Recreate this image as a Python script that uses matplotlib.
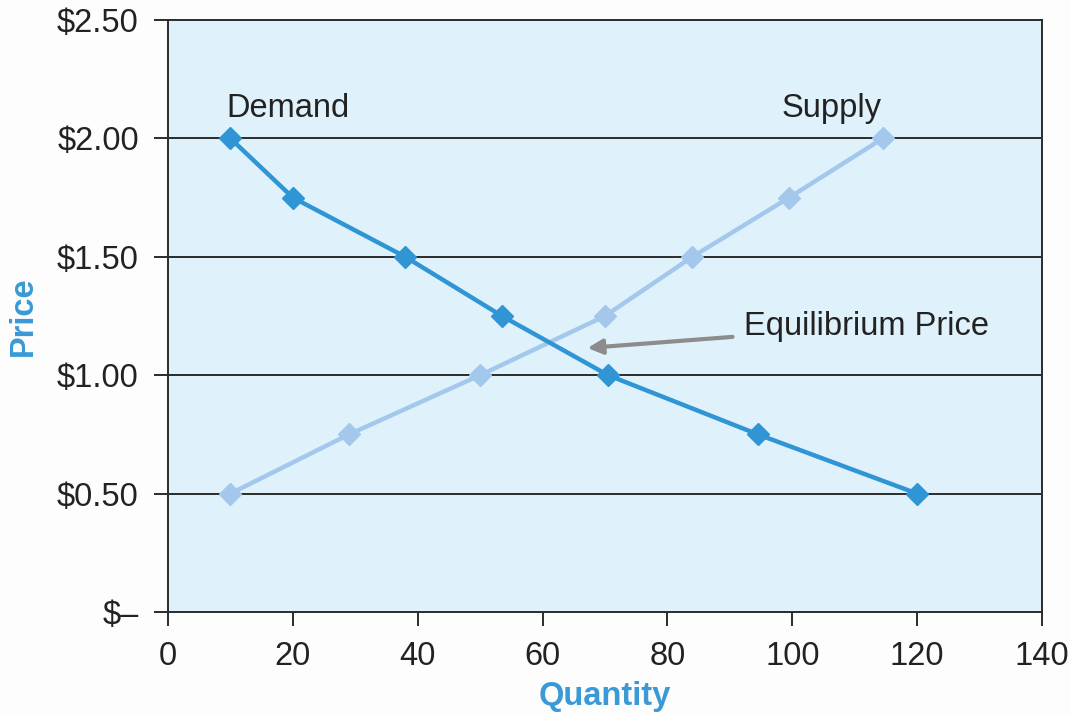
import matplotlib
matplotlib.use("Agg")
import matplotlib.pyplot as plt

# Data
demand_q = [10, 20, 38, 53.5, 70.5, 94.5, 120]
demand_p = [2.00, 1.75, 1.50, 1.25, 1.00, 0.75, 0.50]
supply_q = [10, 29, 50, 70, 84, 99.5, 114.5]
supply_p = [0.50, 0.75, 1.00, 1.25, 1.50, 1.75, 2.00]
x_ticks = [0, 20, 40, 60, 80, 100, 120, 140]
y_ticks = [0.0, 0.5, 1.0, 1.5, 2.0, 2.5]
y_tick_labels = ["$\u2013", "$0.50", "$1.00", "$1.50", "$2.00", "$2.50"]

plt.rcParams['font.family'] = ['Liberation Sans', 'DejaVu Sans']

fig = plt.figure(figsize=(10.7, 7.14), dpi=100)
fig.patch.set_facecolor('#fdfdfd')
ax = fig.add_axes([168/1070, 1-612/714, (1042-168)/1070, (612-20)/714])
ax.set_facecolor('#dff2fc')

ax.set_xlim(0, 140)
ax.set_ylim(0, 2.5)

for y in y_ticks[1:-1]:
    ax.axhline(y, color='#2b2b2b', lw=1.4, zorder=1)

blue = '#2f95d4'
light = '#a3c8ec'
ax.plot(supply_q, supply_p, color=light, lw=3.2, marker='D', ms=11, zorder=3)
ax.plot(demand_q, demand_p, color=blue, lw=3.2, marker='D', ms=11, zorder=4)

ax.text(9.3, 2.125, "Demand", fontsize=23.5, color='#222222', va='center', ha='left')
ax.text(98.2, 2.125, "Supply", fontsize=23.5, color='#222222', va='center', ha='left')
ax.annotate("Equilibrium Price", xy=(67.2, 1.115), xytext=(92.2, 1.205),
            fontsize=23.5, color='#222222', va='center', ha='left',
            arrowprops=dict(arrowstyle='-|>', color='#8c8c8c', lw=3,
                            mutation_scale=22, shrinkA=6, shrinkB=0))

ax.set_xticks(x_ticks)
ax.set_yticks(y_ticks)
ax.set_yticklabels(y_tick_labels)
ax.tick_params(axis='both', direction='out', length=10, width=1.4,
               color='#2b2b2b', labelsize=23.5, labelcolor='#222222')
ax.tick_params(axis='y', pad=11)
ax.tick_params(axis='x', pad=11)

for s in ax.spines.values():
    s.set_color('#2b2b2b')
    s.set_linewidth(1.4)

ax.set_xlabel("Quantity", fontsize=23.5, fontweight='bold', color='#3a9ad6', labelpad=6)
ax.set_ylabel("Price", fontsize=23.5, fontweight='bold', color='#3a9ad6', labelpad=13)

fig.savefig("out.png", dpi=100, facecolor=fig.get_facecolor())
